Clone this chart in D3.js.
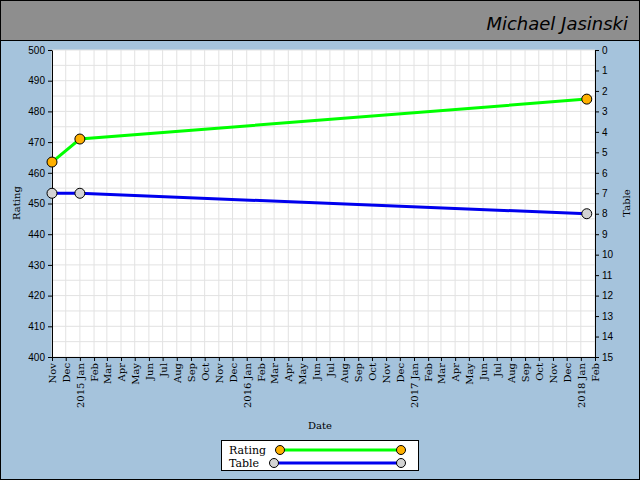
<!DOCTYPE html>
<html><head><meta charset="utf-8">
<script src="https://cdn.jsdelivr.net/npm/d3@7"></script>
<style>body{margin:0}svg{display:block}</style>
</head><body>
<script>
const ratingDates = ['2014-11-01', '2015-01-01', '2018-01-14']
const ratingValues = [463.5, 471, 484]
const tableDates = ['2014-11-01', '2015-01-01', '2018-01-14']
const tableValues = [7, 7, 8]
const ratingTicks = d3.range(400, 501, 10)
const tableTicks = d3.range(0, 16, 1)

const W = 640, H = 480
const m = {l: 52, r: 595, t: 50, b: 357}
const parse = d3.utcParse('%Y-%m-%d')

const svg = d3.select('body').append('svg').attr('width', W).attr('height', H)
svg.append('rect').attr('x', 0.5).attr('y', 0.5).attr('width', W - 1).attr('height', H - 1)
  .attr('fill', '#a5c3dc').attr('stroke', '#000')
svg.append('rect').attr('x', 0.5).attr('y', 0.5).attr('width', W - 1).attr('height', 40)
  .attr('fill', '#8e8e8e').attr('stroke', '#000')
svg.append('text').attr('x', 628).attr('y', 30).attr('text-anchor', 'end')
  .attr('font-family', 'DejaVu Sans').attr('font-style', 'italic').attr('font-size', 18)
  .attr('font-weight', 'lighter').text('Michael Jasinski')

const x = d3.scaleUtc().domain([parse('2014-11-01'), parse('2018-02-01')]).range([m.l, m.r])
const y = d3.scaleLinear().domain([400, 500]).range([m.b, m.t])
const y2 = d3.scaleLinear().domain([15, 0]).range([m.b, m.t])

svg.append('rect').attr('x', m.l).attr('y', m.t).attr('width', m.r - m.l).attr('height', m.b - m.t).attr('fill', '#fff')
const g = svg.append('g')
g.selectAll('.vg').data(x.ticks(d3.utcMonth)).join('line')
  .attr('x1', d => x(d)).attr('x2', d => x(d)).attr('y1', m.t).attr('y2', m.b).attr('stroke', '#e2e2e2')
g.selectAll('.hg').data(d3.range(400, 501, 5)).join('line')
  .attr('y1', d => y(d)).attr('y2', d => y(d)).attr('x1', m.l).attr('x2', m.r).attr('stroke', '#e2e2e2')

const monthFmt = d => d.getUTCMonth() === 0 ? d3.utcFormat('%Y %b')(d) : d3.utcFormat('%b')(d)
const xa = svg.append('g').attr('transform', `translate(0,${m.b})`)
  .call(d3.axisBottom(x).ticks(d3.utcMonth).tickFormat(monthFmt).tickSize(4).tickSizeOuter(0))
xa.selectAll('text').attr('transform', 'rotate(-90)').attr('text-anchor', 'end')
  .attr('x', -6).attr('y', 0).attr('dy', '0.35em').attr('font-family', 'DejaVu Serif').attr('font-size', 10)

const ya = svg.append('g').attr('transform', `translate(${m.l},0)`)
  .call(d3.axisLeft(y).tickValues(ratingTicks).tickSize(4).tickSizeOuter(0))
ya.selectAll('text').attr('font-family', 'Liberation Sans').attr('font-size', 10)
const ya2 = svg.append('g').attr('transform', `translate(${m.r},0)`)
  .call(d3.axisRight(y2).tickValues(tableTicks).tickSize(4).tickSizeOuter(0))
ya2.selectAll('text').attr('font-family', 'Liberation Sans').attr('font-size', 10)
svg.selectAll('.domain').attr('stroke', '#000')

svg.append('text').attr('x', 320).attr('y', 429).attr('text-anchor', 'middle')
  .attr('font-family', 'DejaVu Serif').attr('font-size', 10).text('Date')
svg.append('text').attr('transform', 'translate(20,203) rotate(-90)').attr('text-anchor', 'middle')
  .attr('font-family', 'DejaVu Serif').attr('font-size', 10).text('Rating')
svg.append('text').attr('transform', 'translate(630,203) rotate(-90)').attr('text-anchor', 'middle')
  .attr('font-family', 'DejaVu Serif').attr('font-size', 10).text('Table')

const rating = ratingDates.map((d, i) => ({d: parse(d), v: ratingValues[i]}))
const table = tableDates.map((d, i) => ({d: parse(d), v: tableValues[i]}))
function series(data, yy, color, fill) {
  svg.append('path').datum(data).attr('fill', 'none').attr('stroke', color).attr('stroke-width', 3)
    .attr('d', d3.line().x(p => x(p.d)).y(p => yy(p.v)))
  svg.selectAll(null).data(data).join('circle').attr('cx', p => x(p.d)).attr('cy', p => yy(p.v))
    .attr('r', 5).attr('fill', fill).attr('stroke', '#000')
}
series(table, y2, '#0000ee', '#d3d3d3')
series(rating, y, '#00ff00', '#ffb000')

const lg = svg.append('g').attr('transform', 'translate(221,440)')
lg.append('rect').attr('x', 0.5).attr('y', 0.5).attr('width', 197).attr('height', 30).attr('fill', '#fff').attr('stroke', '#000')
const items = [['Rating', '#00ff00', '#ffb000', 280, 10], ['Table', '#0000ee', '#d3d3d3', 274, 23]]
items.forEach(([name, c, f, sx, yy]) => {
  lg.append('text').attr('x', 8).attr('y', yy + 4).attr('font-family', 'DejaVu Serif').attr('font-size', 11).text(name)
  lg.append('line').attr('x1', sx - 221).attr('x2', 401 - 221).attr('y1', yy).attr('y2', yy).attr('stroke', c).attr('stroke-width', 3)
  ;[sx - 221, 401 - 221].forEach(cx => lg.append('circle').attr('cx', cx).attr('cy', yy).attr('r', 4.5).attr('fill', f).attr('stroke', '#000'))
})
</script>
</body></html>
